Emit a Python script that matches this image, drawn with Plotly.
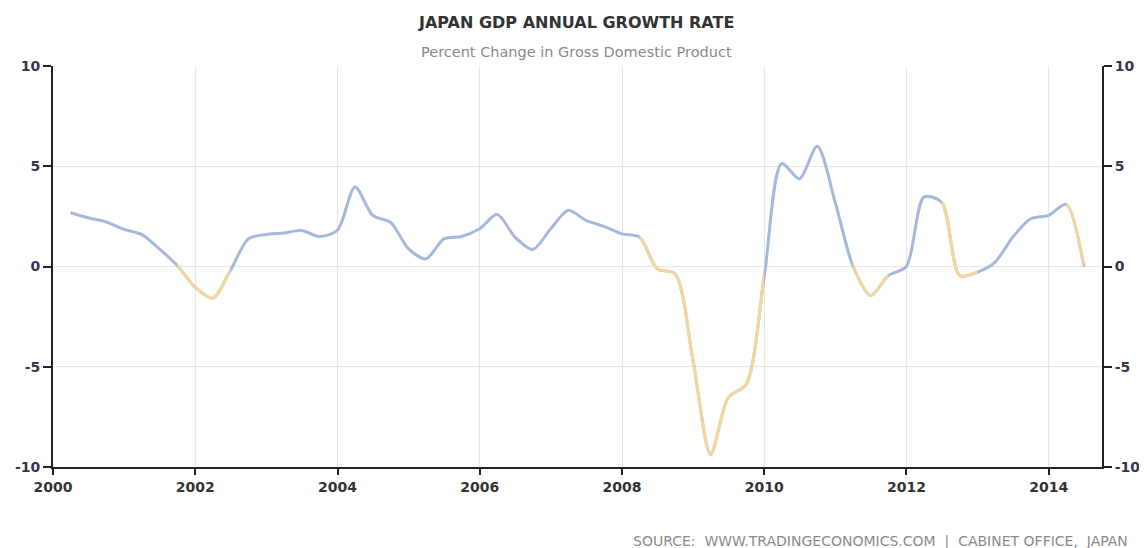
import pandas as pd
import plotly.graph_objects as go

# Quarterly YoY GDP growth (%), 2000Q1 .. 2014Q2 (quarter-end dates)
quarter_ends = pd.date_range("2000-03-31", periods=58, freq="QE")
growth = [
    2.68, 2.43, 2.22, 1.85,
    1.60, 0.88, 0.05, -1.03,
    -1.58, -0.20, 1.38, 1.60,
    1.67, 1.80, 1.50, 1.80,
    3.97, 2.55, 2.20, 0.88,
    0.38, 1.38, 1.50, 1.88,
    2.60, 1.47, 0.85, 1.88,
    2.80, 2.30, 2.00, 1.63,
    1.47, -0.12, -0.37, -4.70,
    -9.37, -6.53, -5.87, -0.53,
    5.13, 4.38, 6.00, 3.20,
    0.05, -1.45, -0.45, 0.00,
    3.47, 3.20, -0.45, -0.28,
    0.22, 1.47, 2.38, 2.55,
    3.10, -0.03,
]
x_range = ["2000-01-01", "2014-10-01"]
y_ticks = [-10, -5, 0, 5, 10]
title_text = "JAPAN GDP ANNUAL GROWTH RATE"
subtitle_text = "Percent Change in Gross Domestic Product"
source_text = "SOURCE:  WWW.TRADINGECONOMICS.COM  |  CABINET OFFICE,  JAPAN"

BLUE = "#a3b8dc"
ORANGE = "#f5d79c"
LW = 3

fig = go.Figure()
fig.add_trace(go.Scatter(x=quarter_ends, y=growth, mode="lines",
                         line=dict(color=BLUE, width=LW, shape="spline", smoothing=0.8),
                         hoverinfo="skip", showlegend=False))

# orange runs: segments ending below zero
runs = []
cur = None
for i in range(1, len(growth)):
    if growth[i] < 0:
        if cur is None:
            cur = [i - 1, i]
        else:
            cur[1] = i
    else:
        if cur is not None:
            runs.append(cur)
            cur = None
if cur is not None:
    runs.append(cur)

# Each orange run is the same full spline, drawn on an extra x axis whose domain
# (and range) covers only that run, so the plot area clips it there exactly.
r0 = pd.Timestamp(x_range[0])
r1 = pd.Timestamp(x_range[1])
span = (r1 - r0).total_seconds()
extra_axes = {}
for k, (a, b) in enumerate(runs):
    ax_id = k + 3
    ta, tb = quarter_ends[a], quarter_ends[b]
    da = (ta - r0).total_seconds() / span
    db = (tb - r0).total_seconds() / span
    extra_axes[f"xaxis{ax_id}"] = dict(type="date", range=[ta, tb], domain=[da, db],
                                       anchor="y", visible=False, showgrid=False,
                                       zeroline=False)
    fig.add_trace(go.Scatter(x=quarter_ends, y=growth, xaxis=f"x{ax_id}", yaxis="y",
                             mode="lines",
                             line=dict(color=ORANGE, width=LW, shape="spline", smoothing=0.8),
                             hoverinfo="skip", showlegend=False))

# invisible trace for right axis
fig.add_trace(go.Scatter(x=quarter_ends, y=growth, yaxis="y2", mode="lines",
                         line=dict(color="rgba(0,0,0,0)", width=0),
                         hoverinfo="skip", showlegend=False))

tickfont = dict(family="DejaVu Sans", size=14, color="#35354f", weight="bold")

# page body has an 8px margin, so the figure is sized to fit inside the window
fig.update_layout(
    width=1139, height=540,
    margin=dict(l=45, r=45, t=58, b=81),
    paper_bgcolor="white", plot_bgcolor="rgba(0,0,0,0)",
    xaxis=dict(type="date", range=x_range,
               tick0="2000-01-01", dtick="M24", tickformat="%Y",
               showgrid=True, gridcolor="#e6e6e6", gridwidth=1,
               showline=True, linecolor="#222", linewidth=2,
               ticks="outside", ticklen=6, tickwidth=2, tickcolor="#222",
               tickfont=dict(family="DejaVu Sans", size=14, color="#333", weight="bold"),
               zeroline=False, automargin=False),
    yaxis=dict(range=[-10, 10], tickvals=y_ticks, ticktext=[str(v) for v in y_ticks],
               showgrid=True, gridcolor="#e6e6e6", gridwidth=1,
               showline=True, linecolor="#222", linewidth=2,
               ticks="outside", ticklen=8, tickwidth=2, tickcolor="#222",
               tickfont=tickfont, zeroline=False, automargin=False),
    yaxis2=dict(range=[-10, 10], tickvals=y_ticks, ticktext=[str(v) for v in y_ticks],
                overlaying="y", side="right", anchor="x",
                showgrid=False, showline=True, linecolor="#222", linewidth=2,
                ticks="outside", ticklen=8, tickwidth=2, tickcolor="#222",
                tickfont=tickfont, zeroline=False, automargin=False),
    **extra_axes,
)

fig.add_annotation(text=title_text, xref="paper", yref="paper", x=0.4986, y=1.0,
                   yshift=44, yanchor="middle", showarrow=False,
                   font=dict(family="DejaVu Sans", size=16, color="#333", weight="bold"))
fig.add_annotation(text=subtitle_text, xref="paper", yref="paper", x=0.4986, y=1.0,
                   yshift=14, yanchor="middle", showarrow=False,
                   font=dict(family="DejaVu Sans", size=14.5, color="#8a8a8a"))
fig.add_annotation(text=source_text, xref="paper", yref="paper", x=1.0, y=0,
                   xshift=28, yshift=-74, xanchor="right", yanchor="middle", showarrow=False,
                   font=dict(family="DejaVu Sans", size=14, color="#8a8a8a"))

fig.write_html("out.html")
